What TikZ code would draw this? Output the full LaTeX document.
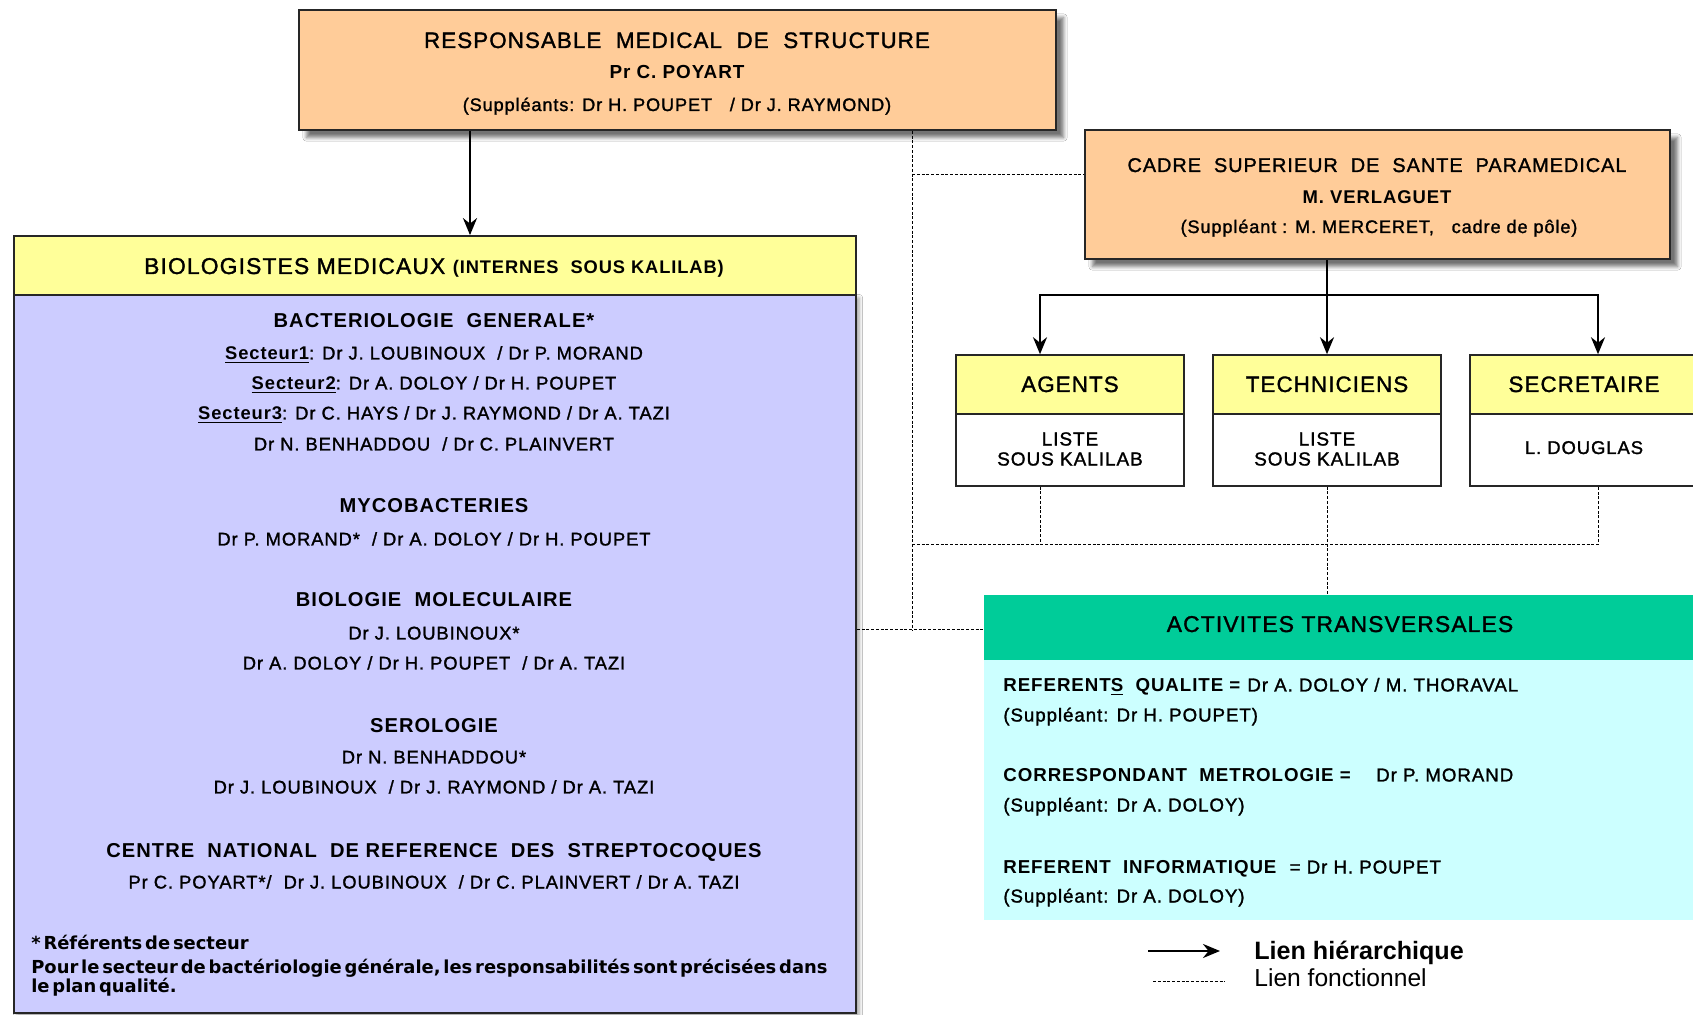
\documentclass[tikz,border=0pt]{standalone}
\usepackage{fontspec}
\setmainfont{Liberation Sans}[LetterSpace=5,UprightFeatures={FakeBold=1.4}]
\newfontfamily\plainsans{Liberation Sans}
\newfontfamily\notesans{DejaVu Sans}[WordSpace=0.45]
\usetikzlibrary{arrows.meta,shadows.blur}
\definecolor{Peach}{HTML}{FFCC99}
\definecolor{Lemon}{HTML}{FFFF99}
\definecolor{Lavender}{HTML}{CCCCFF}
\definecolor{Mint}{HTML}{00CC99}
\definecolor{Aqua}{HTML}{CCFFFF}

\begin{document}
\begin{tikzpicture}[x=0.2mm,y=-0.2mm,
    box/.style={draw=black!85,line width=0.35mm,inner sep=0pt},
    shadebox/.style={box,blur shadow={shadow xshift=1.5mm,shadow yshift=-1.5mm,
      shadow blur steps=6,shadow opacity=55}},
    big/.style={anchor=base,inner sep=0pt,font=\fontsize{12.7}{15}\selectfont},
    sect/.style={anchor=base,inner sep=0pt,font=\fontsize{11.45}{13}\selectfont\bfseries},
    names/.style={anchor=base,inner sep=0pt,font=\fontsize{10.45}{12}\selectfont},
    note/.style={anchor=base west,inner sep=0pt,font=\notesans\fontsize{10.2}{12}\selectfont\bfseries},
    hier/.style={-{Stealth[length=3.4mm,width=2.8mm]},line width=0.5mm},
    func/.style={line width=0.2mm,dash pattern=on 0.6mm off 0.35mm}]
  \useasboundingbox (0,0) rectangle (1693,1015);
  \clip (0,0) rectangle (1693,1015);
  \fill[white] (0,0) rectangle (1693,1015);

  % responsable medical
  \node[shadebox,fill=Peach,minimum width=151.4mm,minimum height=24mm] (resp) at (677.5,70) {};
  \node[big] (resp1) at (677,48) {RESPONSABLE~ MEDICAL~ DE~ STRUCTURE};
  \node[anchor=base,inner sep=0pt,font=\fontsize{10.75}{12}\selectfont\bfseries] (resp2) at (677,79) {Pr C. POYART};
  \node[names,font=\fontsize{10.3}{12}\selectfont] (resp3) at (677,111) {(Suppléants: Dr H. POUPET~~ / Dr J. RAYMOND)};

  % cadre de sante
  \node[shadebox,fill=Peach,minimum width=117mm,minimum height=25.8mm] (cadre) at (1377.5,194.5) {};
  \node[anchor=base,inner sep=0pt,font=\fontsize{11.3}{13}\selectfont] (cadre1) at (1377,172) {CADRE~ SUPERIEUR~ DE~ SANTE~ PARAMEDICAL};
  \node[anchor=base,inner sep=0pt,font=\fontsize{10.5}{12}\selectfont\bfseries] (cadre2) at (1377,204) {M. VERLAGUET};
  \node[names,font=\fontsize{10.3}{12}\selectfont] (cadre3) at (1379,233) {(Suppléant : M. MERCERET,~~ cadre de pôle)};

  % biologistes
  \node[box,fill=Lavender,minimum width=168.4mm,minimum height=143.6mm,
    blur shadow={shadow xshift=0.6mm,shadow yshift=-0.6mm,shadow blur steps=4}] (biob) at (435,654) {};
  \node[box,fill=Lemon,minimum width=168.4mm,minimum height=11.8mm] (bioh) at (435,265.5) {};
  \node[anchor=base,inner sep=0pt] (bioh1) at (434,274) {\fontsize{13}{15}\selectfont BIOLOGISTES MEDICAUX
    \fontsize{10.4}{12}\selectfont\bfseries(INTERNES~ SOUS KALILAB)};
  \foreach \yb/\fmt/\txt [count=\i] in {
      328/sect/{BACTERIOLOGIE~ GENERALE*},
      359.5/names/{\textbf{\underline{Secteur1}}: Dr J. LOUBINOUX~ / Dr P. MORAND},
      389.5/names/{\textbf{\underline{Secteur2}}: Dr A. DOLOY / Dr H. POUPET},
      419.5/names/{\textbf{\underline{Secteur3}}: Dr C. HAYS / Dr J. RAYMOND / Dr A. TAZI},
      450.5/names/{Dr N. BENHADDOU~ / Dr C. PLAINVERT},
      513/sect/{MYCOBACTERIES},
      545.5/names/{Dr P. MORAND*~ / Dr A. DOLOY / Dr H. POUPET},
      607/sect/{BIOLOGIE~ MOLECULAIRE},
      639.5/names/{Dr J. LOUBINOUX*},
      669.5/names/{Dr A. DOLOY / Dr H. POUPET~ / Dr A. TAZI},
      733/sect/{SEROLOGIE},
      763.5/names/{Dr N. BENHADDOU*},
      793.5/names/{Dr J. LOUBINOUX~ / Dr J. RAYMOND / Dr A. TAZI},
      857/sect/{CENTRE~ NATIONAL~ DE REFERENCE~ DES~ STREPTOCOQUES},
      888.5/names/{Pr C. POYART*/~ Dr J. LOUBINOUX~ / Dr C. PLAINVERT / Dr A. TAZI}}
    \node[\fmt] (bio\i) at (434,\yb) {\txt};
  \node[note] (note1) at (31,949) {* Référents de secteur};
  \node[note] (note2) at (31,973)
    {Pour le secteur de bactériologie générale, les responsabilités sont précisées dans};
  \node[note] (note3) at (31,992) {le plan qualité.};

  % agents, techniciens, secretaire
  \foreach \n/\x/\head in {agents/1070/AGENTS,tech/1327/TECHNICIENS,secr/1584/SECRETAIRE}{
    \node[box,line width=0.3mm,fill=white,minimum width=45.6mm,minimum height=14.4mm] (\n b) at (\x,450) {};
    \node[box,line width=0.3mm,fill=Lemon,minimum width=45.6mm,minimum height=11.8mm] (\n h) at (\x,384.5) {};
    \node[big] (\n h1) at (\x,392) {\head};
  }
  \node[align=center,font=\fontsize{10.8}{11.4}\selectfont] (agentsb1) at (1070,449) {LISTE\\SOUS KALILAB};
  \node[align=center,font=\fontsize{10.8}{11.4}\selectfont] (techb1) at (1327,449) {LISTE\\SOUS KALILAB};
  \node[names,font=\fontsize{10.5}{12}\selectfont] (secrb1) at (1584,454) {L. DOUGLAS};

  % activites transversales
  \node[fill=Aqua,inner sep=0pt,minimum width=142.4mm,minimum height=52mm] (activb) at (1340,790) {};
  \node[fill=Mint,inner sep=0pt,minimum width=142.4mm,minimum height=13mm] (activh) at (1340,627.5) {};
  \node[big,font=\fontsize{13}{15}\selectfont] (activh1) at (1340,632) {ACTIVITES TRANSVERSALES};
  \foreach \yb/\txt [count=\i] in {
      691.5/{\textbf{REFERENT\underline{S}~ QUALITE =} Dr A. DOLOY / M. THORAVAL},
      721.5/{(Suppléant: Dr H. POUPET)},
      781.5/{\textbf{CORRESPONDANT~ METROLOGIE =}~~~ Dr P. MORAND},
      811.5/{(Suppléant: Dr A. DOLOY)},
      873.5/{\textbf{REFERENT~ INFORMATIQUE}~ = Dr H. POUPET},
      902.5/{(Suppléant: Dr A. DOLOY)}}
    \node[names,anchor=base west,font=\fontsize{10.65}{12}\selectfont] (act\i) at (1003,\yb) {\txt};

  % liens hierarchiques
  \coordinate (xa) at (470,0);
  \coordinate (ka) at (1040,295);
  \coordinate (kt) at (1327,295);
  \coordinate (ks) at (1598,295);
  \draw[hier] (resp.south -| xa) -- (bioh.north -| xa);
  \draw[line width=0.5mm] (cadre.south -| kt) -- (kt);
  \draw[hier] (kt) -- (techh.north);
  \draw[hier] (kt) -| (ka |- agentsh.north);
  \draw[hier] (kt) -| (ks |- secrh.north);

  % liens fonctionnels
  \coordinate (d0) at (912,630);
  \coordinate (d1) at (912,175);
  \coordinate (d2) at (912,545);
  \draw[func] (resp.south -| d0) -- (d0);
  \draw[func] (biob.east |- d0) -- (activh.west |- d0);
  \draw[func] (d1) -- (cadre.west |- d1);
  \draw[func] (d2) -| (ks |- secrb.south);
  \draw[func] (ka |- agentsb.south) -- (ka |- d2);
  \draw[func] (techb.south) -- (techb.south |- activh.north);

  % legende
  \coordinate (lg1) at (1148,951);
  \coordinate (lg2) at (1153,981);
  \draw[hier] (lg1) -- ++(72,0);
  \draw[func] (lg2) -- ++(72,0);
  \node[anchor=base west,inner sep=0pt,font=\plainsans\fontsize{14.3}{16}\selectfont\bfseries] (lg1t) at (1254,959) {Lien hiérarchique};
  \node[anchor=base west,inner sep=0pt,font=\plainsans\fontsize{14}{16}\selectfont] (lg2t) at (1254,986) {Lien fonctionnel};
\end{tikzpicture}
\end{document}
